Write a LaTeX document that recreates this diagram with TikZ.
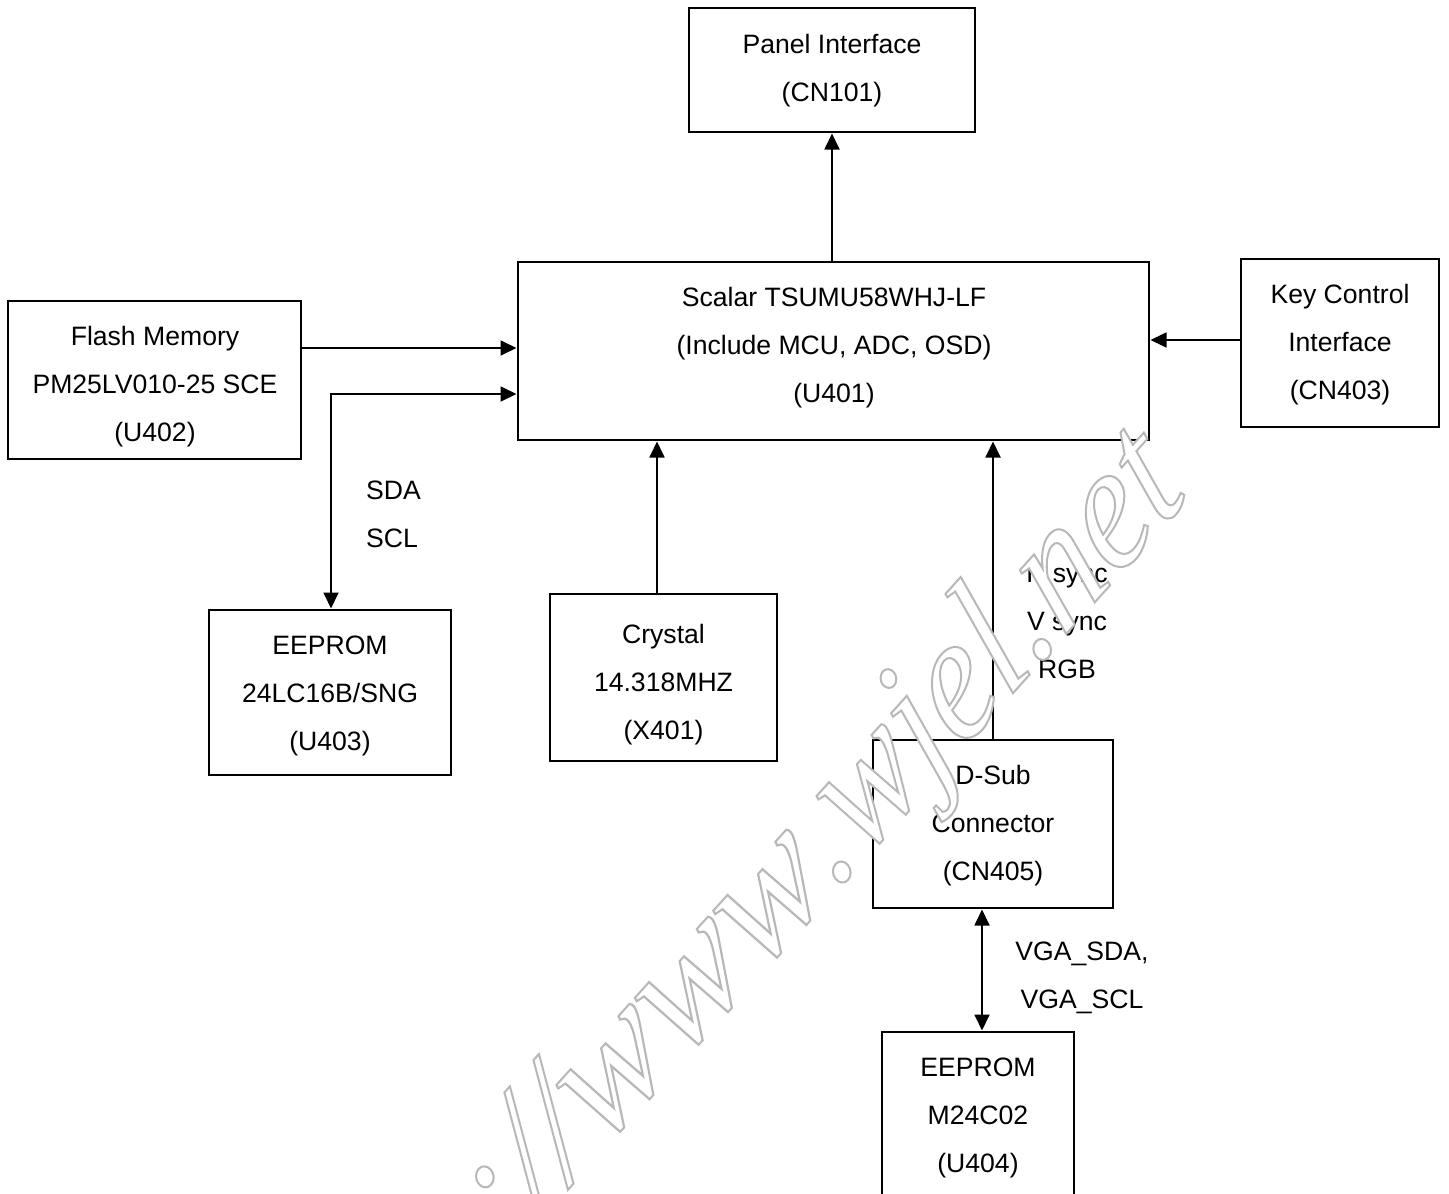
\documentclass[tikz,border=0pt]{standalone}
\usepackage{fontspec}
\setmainfont{Liberation Sans}
\newfontfamily\wmfont[FakeStretch=0.93,ItalicFeatures={FakeSlant=0.17}]{Liberation Serif}
\usetikzlibrary{arrows.meta}
\tikzset{
  x=1pt,y=-1pt,
  boxnode/.style={draw=black,line width=1.8pt,fill=none,inner sep=0pt,outer sep=0pt},
  lbl/.style={font=\fontsize{26.6}{48}\selectfont,inner sep=0pt,align=center,text=black},
  lblleft/.style={font=\fontsize{26.6}{48}\selectfont,inner sep=0pt,align=left,text=black},
  arr/.style={draw=black,line width=1.8pt,-{Triangle[length=16pt,width=15pt]},shorten >=1.5pt},
  biarr/.style={draw=black,line width=1.8pt,{Triangle[length=16pt,width=15pt]}-{Triangle[length=16pt,width=15pt]},shorten >=1.5pt,shorten <=1.5pt},
}
\newcommand{\bx}[5]{\node[boxnode,minimum width={#4pt-#2pt},minimum height={#5pt-#3pt}] (#1) at ({(#2+#4)/2},{(#3+#5)/2}) {};}
\newcommand{\wmon}{\special{pdf:code q 2 Tr 1 g 0.72 G 2 w}}
\newcommand{\wmoff}{\special{pdf:code Q}}
\begin{document}
\begin{tikzpicture}
\useasboundingbox (0,0) rectangle (1449,1194);
\clip (0,0) rectangle (1449,1194);
\fill[white] (0,0) rectangle (1449,1194);
\bx{panel}{689}{8}{975}{132}
\bx{scalar}{518}{262}{1149}{440}
\bx{key}{1241}{259}{1439}{427}
\bx{flash}{8}{301}{301}{459}
\bx{eepa}{209}{610}{451}{775}
\bx{crystal}{550}{594}{777}{761}
\bx{dsub}{873}{740}{1113}{908}
\bx{eepb}{882}{1032}{1074}{1240}
\node[lbl] (panelt) at (832,71) {Panel Interface\\(CN101)};
\node[lbl] (scalart) at (834,348) {Scalar TSUMU58WHJ-LF\\(Include MCU, ADC, OSD)\\(U401)};
\node[lbl] (keyt) at (1340,345) {Key Control\\Interface\\(CN403)};
\node[lbl] (flasht) at (155,387) {Flash Memory\\PM25LV010-25 SCE\\(U402)};
\node[lbl] (eepat) at (330,696) {EEPROM\\24LC16B/SNG\\(U403)};
\node[lbl] (crystalt) at (663.5,685) {Crystal\\14.318MHZ\\(X401)};
\node[lbl] (dsubt) at (993,826) {D-Sub\\Connector\\(CN405)};
\node[lbl] (eepbt) at (978,1118) {EEPROM\\M24C02\\(U404)};
\node[lblleft,anchor=west] (sda) at (366,514) {SDA\\SCL};
\node[lbl] (hs) at (1067,621) {H sync\\V sync\\RGB};
\node[lbl] (vga) at (1082,978) {VGA\_SDA,\\VGA\_SCL};
\draw[arr] (scalar.north -| panel.south) -- (panel.south);
\draw[arr] ([yshift=32pt]flash.east) -- ([yshift=3pt]scalar.west);
\coordinate (sdaj) at (331,394);
\draw[biarr] (eepa.north -| sdaj) -- (sdaj) -- (scalar.west |- sdaj);
\draw[arr] ([yshift=3pt]key.west) -- ([yshift=11pt]scalar.east);
\draw[arr] (crystal.north -| 657,0) -- (scalar.south -| 657,0);
\draw[arr] (dsub.north) -- (scalar.south -| dsub.north);
\draw[biarr] (eepb.north -| 982,0) -- (dsub.south -| 982,0);
\node[rotate=48,anchor=base west,inner sep=0pt,font=\wmfont\itshape\fontsize{168}{168}\selectfont] (wm) at (345,1435)
 {\wmon http://\wmoff\scalebox{1.125}[1]{\wmon www\wmoff}\wmon .wjel.net\wmoff};
\end{tikzpicture}
\end{document}
